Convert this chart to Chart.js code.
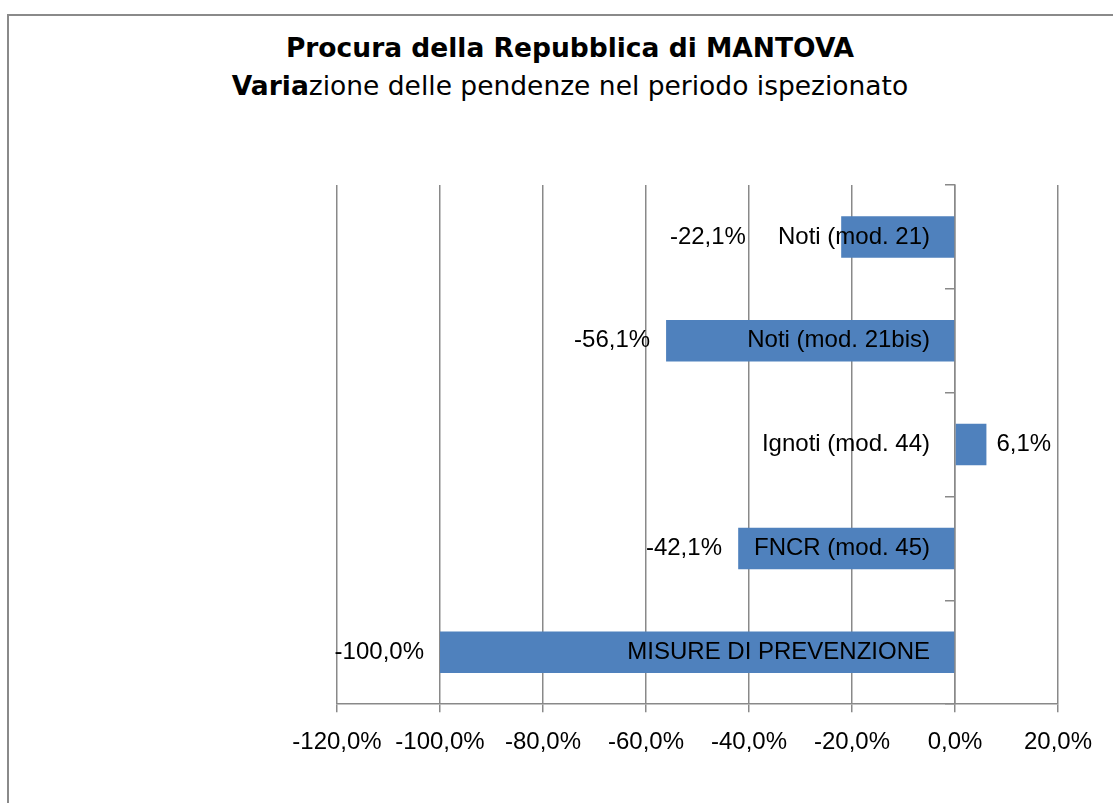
<!DOCTYPE html>
<html>
<head>
<meta charset="utf-8">
<script src="https://cdn.jsdelivr.net/npm/chart.js@4"></script>
<style>
    body { margin: 0; background: #fff; overflow: hidden; }
    #frame { position: absolute; left: 7px; top: 14px; width: 1200px; height: 900px; border: 2px solid #8a8a8a; }
    #titolo { position: absolute; left: 7px; top: 29px; width: 1126px; text-align: center;
        font-family: 'DejaVu Sans', Verdana, sans-serif; font-size: 26.5px; line-height: 38px; color: #000; }
    #box { position: absolute; left: 0; top: 0; width: 1113px; height: 803px; }
</style>
</head>
<body>
<div id="frame"></div>
<div id="titolo"><b>Procura della Repubblica di MANTOVA</b><br><b>Varia</b>zione delle pendenze nel periodo ispezionato</div>
<div id="box"><canvas id="myChart"></canvas></div>
<script>
const categorie = ['Noti (mod. 21)', 'Noti (mod. 21bis)', 'Ignoti (mod. 44)', 'FNCR (mod. 45)', 'MISURE DI PREVENZIONE'];
const variazioni = [-22.1, -56.1, 6.1, -42.1, -100.0];
const tickMin = -120;
const tickMax = 20;
const tickStep = 20;

const labelFont = '24px "Liberation Sans", Arial, sans-serif';
const gray = '#898989';

function pct(v) {
    return v.toFixed(1).replace('.', ',') + '%';
}

// nomi delle categorie accanto all'asse dello zero + etichette dei valori
const barLabels = {
    id: 'barLabels',
    afterDraw(chart) {
        const ctx = chart.ctx;
        const meta = chart.getDatasetMeta(0);
        const zeroX = chart.scales.x.getPixelForValue(0);
        const yScale = chart.scales.y;
        ctx.save();
        ctx.font = labelFont;
        ctx.fillStyle = '#000';
        ctx.textBaseline = 'middle';
        meta.data.forEach(function(bar, i) {
            const y = yScale.getPixelForValue(i);
            ctx.textAlign = 'right';
            ctx.fillText(categorie[i], zeroX - 25, y);

            const v = variazioni[i];
            if (v < 0) {
                const catLeft = zeroX - 25 - ctx.measureText(categorie[i]).width;
                ctx.textAlign = 'right';
                ctx.fillText(pct(v), Math.min(bar.x, catLeft - 16) - 16, bar.y);
            } else {
                ctx.textAlign = 'left';
                ctx.fillText(pct(v), bar.x + 10, bar.y);
            }
        });
        ctx.restore();
    }
};

const ctx = document.getElementById('myChart');

new Chart(ctx, {
    type: 'bar',
    data: {
        labels: categorie,
        datasets: [{
            label: 'Variazione',
            data: variazioni,
            backgroundColor: '#4f81bd',
            borderWidth: 0,
            categoryPercentage: 1,
            barPercentage: 0.4
        }]
    },
    options: {
        indexAxis: 'y',
        responsive: true,
        maintainAspectRatio: false,
        animation: false,
        layout: {
            padding: { left: 337, right: 55, top: 185, bottom: 30 }
        },
        plugins: {
            legend: { display: false },
            tooltip: { enabled: false }
        },
        scales: {
            x: {
                min: tickMin,
                max: tickMax,
                ticks: {
                    stepSize: tickStep,
                    color: '#000',
                    padding: 16,
                    font: { family: '"Liberation Sans", Arial, sans-serif', size: 24 },
                    callback: function(value) {
                        return pct(value);
                    }
                },
                grid: { color: gray, lineWidth: 1.5, tickLength: 8 },
                border: { color: gray, width: 1.5 }
            },
            y: {
                position: { x: 0 },
                z: 1,
                ticks: { display: false },
                grid: { drawOnChartArea: false, color: gray, lineWidth: 1.5, tickLength: 9 },
                border: { color: gray, width: 1.5 }
            }
        }
    },
    plugins: [barLabels]
});
</script>
</body>
</html>
